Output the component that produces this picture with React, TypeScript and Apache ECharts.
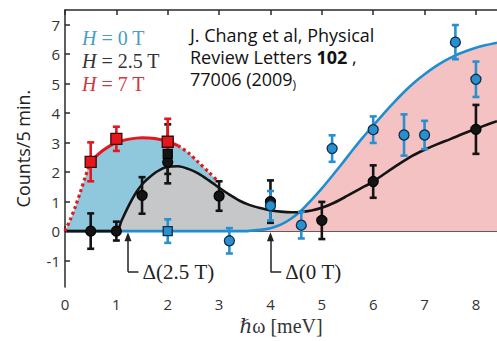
import React, { useEffect, useRef } from "react";
import * as echarts from "echarts";

// ---------- tick labels ----------
const xTicks = [0, 1, 2, 3, 4, 5, 6, 7, 8];
const yTicks = [-1, 0, 1, 2, 3, 4, 5, 6, 7];

// ---------- measured points (x, y, error) ----------
// H = 0 T (blue)
const blueSqX = [2];
const blueSqY = [0];
const blueSqErr = [0.4];
const blueX = [3.2, 4, 4.6, 5.2, 6, 6.6, 7, 7.6, 8];
const blueY = [-0.33, 0.86, 0.2, 2.8, 3.44, 3.26, 3.26, 6.41, 5.15];
const blueErr = [0.43, 0.5, 0.45, 0.45, 0.45, 0.7, 0.48, 0.58, 0.6];

// H = 2.5 T (black)
const blackX = [0.5, 1, 1.5, 2, 3, 4, 5, 6, 8];
const blackY = [0, 0, 1.21, 2.34, 1.19, 1.0, 0.36, 1.68, 3.45];
const blackErr = [0.6, 0.32, 0.62, 0.4, 0.5, 0.72, 0.63, 0.55, 0.83];
const blackSqX = [2];
const blackSqY = [2.62];
const blackSqErr = [1.0];

// H = 7 T (red)
const redX = [0.5, 1, 2];
const redY = [2.35, 3.13, 3.03];
const redErr = [0.66, 0.41, 0.78];

// ---------- fitted curves ----------
const redDotLeftX = [0, 0.1, 0.2, 0.3, 0.4, 0.5];
const redDotLeftY = [0, 0.38, 0.82, 1.33, 1.86, 2.37];
const redSolidX = [0.5, 0.75, 1.0, 1.25, 1.5, 1.75, 2.0, 2.2];
const redSolidY = [2.37, 2.75, 3.0, 3.12, 3.17, 3.14, 3.04, 2.9];
const redDotRightX = [2.2, 2.4, 2.6, 2.8, 2.95];
const redDotRightY = [2.9, 2.66, 2.33, 2.0, 1.74];

const blackFitX = [0, 0.5, 1.0, 1.1, 1.2, 1.3, 1.4, 1.5, 1.6, 1.8, 2.0, 2.2, 2.4, 2.6, 2.8, 3.0, 3.2, 3.4, 3.6, 3.8, 4.0, 4.2, 4.4, 4.6, 4.8, 5.0, 5.25, 5.5, 5.75, 6.0, 6.25, 6.5, 6.75, 7.0, 7.25, 7.5, 7.75, 8.0, 8.2, 8.41];
const blackFitY = [0, 0, 0, 0.35, 0.72, 1.06, 1.35, 1.58, 1.76, 2.03, 2.18, 2.2, 2.11, 1.95, 1.72, 1.47, 1.24, 1.03, 0.88, 0.78, 0.7, 0.66, 0.64, 0.65, 0.7, 0.79, 0.97, 1.2, 1.44, 1.68, 1.98, 2.27, 2.54, 2.76, 2.95, 3.12, 3.3, 3.47, 3.6, 3.73];

const blueFitX = [0, 1, 2, 3, 3.5, 3.6, 3.8, 4.0, 4.2, 4.4, 4.6, 4.8, 5.0, 5.2, 5.4, 5.6, 5.8, 6.0, 6.2, 6.4, 6.6, 6.8, 7.0, 7.2, 7.4, 7.6, 7.8, 8.0, 8.2, 8.41];
const blueFitY = [0, 0, 0, 0, 0, 0.01, 0.04, 0.1, 0.22, 0.42, 0.7, 1.06, 1.45, 1.87, 2.3, 2.75, 3.18, 3.58, 3.98, 4.36, 4.72, 5.04, 5.32, 5.57, 5.78, 5.96, 6.1, 6.22, 6.31, 6.39];

// ---------- gap annotations ----------
const gapLabels = ["Δ(2.5 T)", "Δ(0 T)"];
const gapX = [1.226, 4.0];
const gapTipY = [-0.19, -0.19];
const gapCornerY = [-1.376, -1.376];
const gapEndX = [1.43, 4.21];

const pairs = (xs: number[], ys: number[]) => xs.map((x, i) => [x, ys[i]]);
const triples = (xs: number[], ys: number[], es: number[]) => xs.map((x, i) => [x, ys[i], es[i]]);

const C_BLUE_LINE = "#1e8ed2";
const C_BLUE_PT = "#2a8fd0";
const C_BLACK = "#141414";
const C_RED = "#e6161d";
const SANS = "'Open Sans', 'Noto Sans', sans-serif";
const SERIF = "'Liberation Serif', 'DejaVu Serif', serif";

function errSeries(name: string, data: number[][], color: string) {
  return {
    type: "custom",
    name,
    data,
    z: 4,
    silent: true,
    encode: { x: 0, y: 1 },
    renderItem: (_p: any, api: any) => {
      const x = api.value(0);
      const y = api.value(1);
      const e = api.value(2);
      const t = api.coord([x, y + e]);
      const b = api.coord([x, y - e]);
      const hw = 3.5;
      const st = { stroke: color, lineWidth: 2.6 };
      return {
        type: "group",
        children: [
          { type: "line", shape: { x1: t[0], y1: t[1], x2: b[0], y2: b[1] }, style: st },
          { type: "line", shape: { x1: t[0] - hw, y1: t[1], x2: t[0] + hw, y2: t[1] }, style: st },
          { type: "line", shape: { x1: b[0] - hw, y1: b[1], x2: b[0] + hw, y2: b[1] }, style: st },
        ],
      };
    },
  };
}

function scatter(name: string, data: number[][], symbol: string, size: number, color: string, border: string) {
  return {
    type: "scatter",
    name,
    data,
    symbol,
    symbolSize: size,
    z: 5,
    silent: true,
    itemStyle: { color, borderColor: border, borderWidth: 1.3, opacity: 1 },
  };
}

function fill(name: string, data: number[][], color: string, z: number) {
  return {
    type: "line",
    name,
    data,
    smooth: 0.3,
    showSymbol: false,
    symbol: "none",
    z,
    silent: true,
    lineStyle: { width: 0, opacity: 0 },
    areaStyle: { color, opacity: 1, origin: "auto" },
  };
}

function curve(name: string, data: number[][], color: string, width: number, type: any = "solid") {
  return {
    type: "line",
    name,
    data,
    smooth: 0.3,
    showSymbol: false,
    symbol: "none",
    z: 3,
    silent: true,
    lineStyle: { color, width, type, cap: "butt" },
  };
}

export default function App() {
  const ref = useRef<HTMLDivElement>(null);
  useEffect(() => {
    if (!ref.current) return;
    const chart = echarts.init(ref.current, null, { renderer: "svg" });

    const redAll = [
      ...pairs(redDotLeftX, redDotLeftY),
      ...pairs(redSolidX.slice(1), redSolidY.slice(1)),
      ...pairs(redDotRightX.slice(1), redDotRightY.slice(1)),
    ];
    const grayData = pairs(blackFitX, blackFitY).filter((p) => p[0] >= 1.0 && p[0] <= 4.6);
    const pinkData = pairs(blueFitX, blueFitY).filter((p) => p[0] >= 3.5);

    const markLineData: any[] = [];
    gapLabels.forEach((lab, i) => {
      markLineData.push([
        { coord: [gapX[i], gapCornerY[i]], symbol: "none" },
        { coord: [gapX[i], gapTipY[i]], symbol: "triangle", symbolSize: [7, 9] },
      ]);
      markLineData.push([
        {
          coord: [gapX[i], gapCornerY[i]],
          symbol: "none",
          label: {
            show: true,
            position: "end",
            formatter: lab,
            fontFamily: SERIF,
            fontSize: 21,
            color: "#222",
            distance: 4,
          },
        },
        { coord: [gapEndX[i], gapCornerY[i]], symbol: "none" },
      ]);
    });

    const axisLineStyle = { color: "#2a2a2a", width: 1.5 };

    chart.setOption({
      animation: false,
      grid: { left: 65, right: 0, top: 10, bottom: 48, containLabel: false },
      xAxis: [
        {
          type: "value",
          min: 0,
          max: 8.41,
          name: "ℏω [meV]",
          nameLocation: "middle",
          nameGap: 28,
          nameTextStyle: { fontFamily: SERIF, fontSize: 20, color: "#333" },
          axisLine: { show: true, lineStyle: axisLineStyle },
          axisTick: { show: true, inside: true, length: 5, customValues: xTicks, lineStyle: axisLineStyle },
          axisLabel: { customValues: xTicks, fontFamily: SANS, fontSize: 15, color: "#333", margin: 9 },
          splitLine: { show: false },
        },
        {
          type: "value",
          position: "top",
          min: 0,
          max: 8.41,
          axisLine: { show: true, lineStyle: axisLineStyle },
          axisTick: { show: true, inside: true, length: 5, customValues: xTicks, lineStyle: axisLineStyle },
          axisLabel: { show: false },
          splitLine: { show: false },
        },
      ],
      yAxis: {
        type: "value",
        min: -1.9,
        max: 7.5,
        name: "Counts/5 min.",
        nameLocation: "middle",
        nameGap: 33,
        nameRotate: 90,
        nameTextStyle: { fontFamily: SANS, fontSize: 18, color: "#222" },
        axisLine: { show: true, lineStyle: axisLineStyle },
        axisTick: { show: true, inside: true, length: 5, customValues: yTicks, lineStyle: axisLineStyle },
        axisLabel: { customValues: yTicks, fontFamily: SANS, fontSize: 15, color: "#333", margin: 5 },
        splitLine: { show: false },
      },
      graphic: [
        {
          type: "text",
          x: 82,
          y: 38,
          style: {
            text: "{i|H} = 0 T",
            fill: "#4a9dc6",
            font: `20px ${SERIF}`,
            verticalAlign: "middle",
            rich: { i: { fontStyle: "italic", fontFamily: SERIF, fontSize: 20, fill: "#4a9dc6" } },
          },
        },
        {
          type: "text",
          x: 82,
          y: 61,
          style: {
            text: "{i|H} = 2.5 T",
            fill: "#333",
            font: `20px ${SERIF}`,
            verticalAlign: "middle",
            rich: { i: { fontStyle: "italic", fontFamily: SERIF, fontSize: 20, fill: "#333" } },
          },
        },
        {
          type: "text",
          x: 82,
          y: 84,
          style: {
            text: "{i|H} = 7 T",
            fill: "#d4353d",
            font: `20px ${SERIF}`,
            verticalAlign: "middle",
            rich: { i: { fontStyle: "italic", fontFamily: SERIF, fontSize: 20, fill: "#d4353d" } },
          },
        },
        {
          type: "text",
          x: 190,
          y: 24,
          style: {
            text: "{n|J. Chang et al, Physical}\n{n|Review Letters }{b|102}{n| ,}\n{n|77006 (2009}{s|)}",
            fill: "#111",
            rich: {
              n: { fontFamily: SANS, fontSize: 18, lineHeight: 22, fill: "#111" },
              b: { fontFamily: SANS, fontSize: 18, fontWeight: "bold", lineHeight: 22, fill: "#111" },
              s: { fontFamily: SANS, fontSize: 12, lineHeight: 22, fill: "#111", verticalAlign: "bottom" },
            },
          },
        },
      ],
      series: [
        fill("fill H7", redAll, "#8fc8dc", 1),
        fill("fill H2.5", grayData, "#c6c7c9", 2),
        fill("fill H0", pinkData, "#f4c2c2", 2),
        {
          ...curve("fit H0", pairs(blueFitX, blueFitY), C_BLUE_LINE, 2.6),
          markLine: {
            silent: true,
            symbol: ["none", "triangle"],
            lineStyle: { color: "#222", width: 1.5, type: "solid" },
            label: { show: false },
            data: markLineData,
          },
        },
        curve("fit H2.5", pairs(blackFitX, blackFitY), C_BLACK, 2.6),
        curve("fit H7 left", pairs(redDotLeftX, redDotLeftY), C_RED, 3.2, [3, 3]),
        curve("fit H7", pairs(redSolidX, redSolidY), C_RED, 3),
        curve("fit H7 right", pairs(redDotRightX, redDotRightY), C_RED, 3.2, [3, 3]),
        errSeries("err H2.5", triples(blackX, blackY, blackErr), C_BLACK),
        errSeries("err H2.5 sq", triples(blackSqX, blackSqY, blackSqErr), C_BLACK),
        errSeries("err H0", triples(blueX, blueY, blueErr), C_BLUE_PT),
        errSeries("err H0 sq", triples(blueSqX, blueSqY, blueSqErr), C_BLUE_PT),
        errSeries("err H7", triples(redX, redY, redErr), C_RED),
        scatter("H = 2.5 T", pairs(blackX, blackY), "circle", 10, C_BLACK, "#000"),
        scatter("H = 2.5 T sq", pairs(blackSqX, blackSqY), "rect", 9, C_BLACK, "#000"),
        scatter("H = 0 T", pairs(blueX, blueY), "circle", 10, C_BLUE_PT, "#0c3048"),
        scatter("H = 0 T sq", pairs(blueSqX, blueSqY), "rect", 9, C_BLUE_PT, "#0c3048"),
        scatter("H = 7 T", pairs(redX, redY), "rect", 11, C_RED, "#3a0808"),
      ],
    });
    return () => chart.dispose();
  }, []);
  return (
    <div
      ref={ref}
      style={{ position: "fixed", left: 0, top: 0, width: 497, height: 341, background: "#fff" }}
    />
  );
}
